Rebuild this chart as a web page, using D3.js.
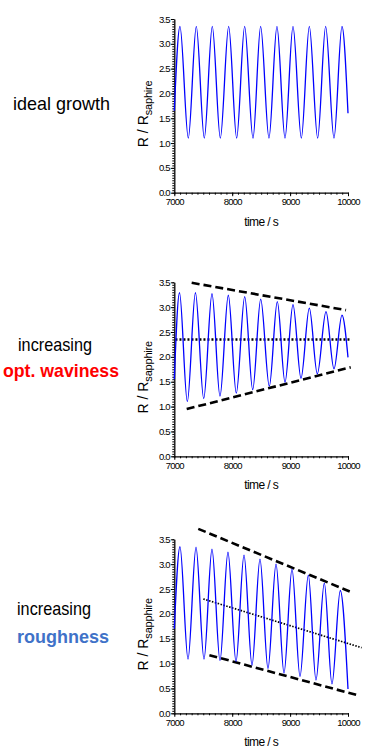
<!DOCTYPE html>
<html>
<head>
<meta charset="utf-8">
<script src="https://cdn.jsdelivr.net/npm/d3@7"></script>
<style>
  body { margin: 0; background: #fff; }
  text { font-family: "Liberation Sans", Arial, sans-serif; }
</style>
</head>
<body>
<script>
// - Reflectance oscillations, three growth cases -

// Axes
const xDomain = [7000, 10000];
const yDomain = [0, 3.5];
const xTicks = [7000, 8000, 9000, 10000];
const yTicks = [0, 0.5, 1, 1.5, 2, 2.5, 3, 3.5];

// Ideal growth: start, peaks / troughs, end  (time in s, R / Rsapphire)
const idealTime = [7000, 7098, 7242, 7380, 7518, 7656, 7795, 7939, 8077, 8215, 8359, 8491,
                   8635, 8773, 8912, 9050, 9194, 9332, 9476, 9614, 9758, 9896, 10000];
const idealValue = [1.65, 3.35, 1.10, 3.35, 1.10, 3.35, 1.10, 3.35, 1.10, 3.35, 1.10, 3.35,
                    1.10, 3.35, 1.10, 3.35, 1.10, 3.35, 1.10, 3.35, 1.10, 3.35, 1.60];

// Optical waviness
const wavyTime = [7000, 7090, 7225, 7365, 7508, 7651, 7789, 7933, 8071, 8216, 8354, 8492,
                  8641, 8779, 8912, 9050, 9188, 9332, 9470, 9620, 9758, 9896, 10000];
const wavyValue = [1.55, 3.29, 1.10, 3.29, 1.16, 3.27, 1.21, 3.24, 1.27, 3.21, 1.34, 3.16,
                   1.41, 3.11, 1.49, 3.05, 1.57, 2.98, 1.66, 2.91, 1.76, 2.84, 1.99];
const wavyUpperT = [7300, 9966], wavyUpperV = [3.49, 2.94];
const wavyLowerT = [7214, 10047], wavyLowerV = [0.95, 1.79];
const wavyMeanT = [7020, 10060], wavyMeanV = [2.35, 2.35];

// Roughness
const roughTime = [7000, 7098, 7237, 7375, 7513, 7651, 7789, 7927, 8066, 8204, 8342, 8480,
                   8618, 8757, 8895, 9033, 9171, 9315, 9447, 9591, 9723, 9867, 10000];
const roughValue = [1.70, 3.35, 1.09, 3.34, 1.09, 3.30, 1.06, 3.24, 1.04, 3.18, 0.97, 3.10,
                    0.90, 3.00, 0.81, 2.90, 0.74, 2.78, 0.67, 2.62, 0.59, 2.47, 0.49];
const roughUpperT = [7414, 10030], roughUpperV = [3.71, 2.45];
const roughLowerT = [7606, 10207], roughLowerV = [1.17, 0.35];
const roughMeanT = [7501, 10236], roughMeanV = [2.30, 1.32];

// Chart size

const w = 365,
      h = 749,
      left = 174.3,
      right = 348;

const svg = d3.select("body")
              .append("svg")
              .attr("width", w)
              .attr("height", h);

const x = d3.scaleLinear().domain(xDomain).range([left, right]);

const pairs = (t, v) => t.map((d, i) => [d, v[i]]);

const panels = [
  { top: 19, bottom: 192.7, sub: "saphire",
    series: pairs(idealTime, idealValue), guides: [],
    labels: [{ text: "ideal growth", x: 61.5, y: 110, len: 97, color: "#000", weight: "normal" }] },
  { top: 282.3, bottom: 456.3, sub: "sapphire",
    series: pairs(wavyTime, wavyValue),
    guides: [
      { pts: pairs(wavyUpperT, wavyUpperV), width: 2.6, dash: "8,4" },
      { pts: pairs(wavyLowerT, wavyLowerV), width: 2.6, dash: "8,4" },
      { pts: pairs(wavyMeanT, wavyMeanV), width: 2.4, dash: "2,2" }
    ],
    labels: [
      { text: "increasing", x: 55, y: 351, len: 74, color: "#000", weight: "normal" },
      { text: "opt. waviness", x: 61, y: 377, len: 116, color: "#ff0000", weight: "bold" }
    ] },
  { top: 539.3, bottom: 713.3, sub: "sapphire",
    series: pairs(roughTime, roughValue),
    guides: [
      { pts: pairs(roughUpperT, roughUpperV), width: 2.6, dash: "8,4" },
      { pts: pairs(roughLowerT, roughLowerV), width: 2.6, dash: "8,4" },
      { pts: pairs(roughMeanT, roughMeanV), width: 1.7, dash: "1.5,1.5" }
    ],
    labels: [
      { text: "increasing", x: 54, y: 615, len: 74, color: "#000", weight: "normal" },
      { text: "roughness", x: 63, y: 643, len: 92, color: "#3f72c8", weight: "bold" }
    ] }
];

panels.forEach(p => {
  const y = d3.scaleLinear().domain(yDomain).range([p.bottom, p.top]);
  const g = svg.append("g");

  // Minor ticks

  const yMinor = g.append("g")
                  .attr("transform", "translate(" + left + ",0)")
                  .call(d3.axisLeft(y).tickValues(d3.range(0, 3.5001, 0.05)).tickSize(2).tickFormat(""));
  yMinor.select(".domain").remove();

  const xMinor = g.append("g")
                  .attr("transform", "translate(0," + p.bottom + ")")
                  .call(d3.axisBottom(x).tickValues(d3.range(7000, 10001, 100)).tickSize(2).tickFormat(""));
  xMinor.select(".domain").remove();

  // Major axes

  g.append("g")
   .attr("class", "axis")
   .attr("transform", "translate(" + left + ",0)")
   .call(d3.axisLeft(y).tickValues(yTicks).tickSizeInner(3.5).tickSizeOuter(0)
          .tickPadding(1).tickFormat(d3.format(".1f")));

  g.append("g")
   .attr("class", "axis")
   .attr("transform", "translate(0," + p.bottom + ")")
   .call(d3.axisBottom(x).tickValues(xTicks).tickSizeInner(3.5).tickSizeOuter(0)
          .tickPadding(2).tickFormat(d3.format("d")));

  g.selectAll(".axis text")
   .style("font-size", "9.5px")
   .attr("letter-spacing", "-0.8")
   .attr("fill", "#000");
  g.selectAll(".axis .domain").attr("stroke-width", 1.3);

  // Axis titles

  g.append("text")
   .attr("x", (left + right) / 2)
   .attr("y", p.bottom + 33)
   .attr("text-anchor", "middle")
   .style("font-size", "12px")
   .attr("letter-spacing", "-0.6")
   .text("time / s");

  const yt = g.append("text")
              .attr("transform", "translate(148," + ((p.top + p.bottom) / 2 + 8) + ") rotate(-90)")
              .attr("text-anchor", "middle")
              .style("font-size", "14px");
  yt.append("tspan").text("R / R");
  yt.append("tspan").attr("dy", 3.5).style("font-size", "11px").attr("letter-spacing", "-0.2").text(p.sub);

  // Guide lines

  const line = d3.line().x(d => x(d[0])).y(d => y(d[1]));

  p.guides.forEach(gd => {
    g.append("path")
     .attr("d", line(gd.pts))
     .attr("fill", "none")
     .attr("stroke", "#000")
     .attr("stroke-width", gd.width)
     .attr("stroke-dasharray", gd.dash);
  });

  // Signal

  g.append("path")
   .attr("d", line.curve(d3.curveMonotoneX)(p.series))
   .attr("fill", "none")
   .attr("stroke", "#0000ff")
   .attr("stroke-width", 1.3);

  // Side labels

  p.labels.forEach(l => {
    svg.append("text")
       .attr("x", l.x)
       .attr("y", l.y)
       .attr("text-anchor", "middle")
       .attr("textLength", l.len)
       .attr("lengthAdjust", "spacingAndGlyphs")
       .attr("fill", l.color)
       .style("font-size", "19px")
       .style("font-weight", l.weight)
       .text(l.text);
  });
});
</script>
</body>
</html>
